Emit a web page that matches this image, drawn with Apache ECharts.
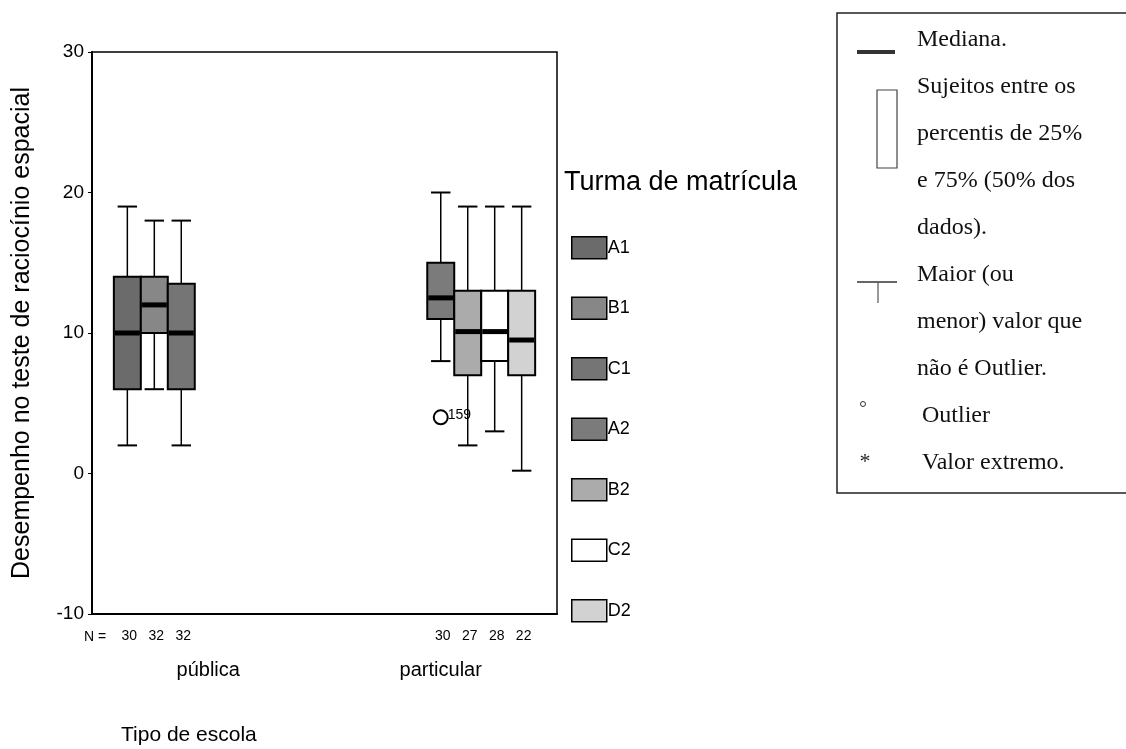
<!DOCTYPE html>
<html><head><meta charset="utf-8">
<script src="https://cdn.jsdelivr.net/npm/echarts@6/dist/echarts.min.js"></script>
<style>html,body{margin:0;padding:0;background:#fff}#c{width:1126px;height:749px}</style>
</head><body><div id="c"></div>
<script>
// ---------- data ----------
const categories = ['pública', 'particular'];
const groups = ['A1', 'B1', 'C1', 'A2', 'B2', 'C2', 'D2'];
const groupCategory = [0, 0, 0, 1, 1, 1, 1];
const whiskerLow  = [2, 6, 2, 8, 2, 3, 0.2];
const quartile1   = [6, 10, 6, 11, 7, 8, 7];
const medians     = [10, 12, 10, 12.5, 10.1, 10.1, 9.5];
const quartile3   = [14, 14, 13.5, 15, 13, 13, 13];
const whiskerHigh = [19, 18, 18, 20, 19, 19, 19];
const sampleN     = [30, 32, 32, 30, 27, 28, 22];
const outlierGroup = ['A2'];
const outlierValue = [4];
const outlierCase  = ['159'];
const yMin = -10, yMax = 30, yStep = 10;

// ---------- styles ----------
const fills = ['#6b6b6b', '#878787', '#757575', '#7b7b7b', '#ababab', '#ffffff', '#d2d2d2'];
const SANS = "'Liberation Sans', Arial, sans-serif";
const SERIF = "'Liberation Serif', 'Times New Roman', serif";
const SLOT_FRAC = 0.116;
const NSLOTS = groups.length;

function slotCenter(api, cat, slot) {
  const band = api.size([1, 0])[0];
  const w = band * SLOT_FRAC;
  return { cx: api.coord([cat, 0])[0] + (slot - (NSLOTS - 1) / 2) * w, w: w };
}

function makeBoxRender(slot) {
  return function (params, api) {
    const cat = api.value(0);
    const s = slotCenter(api, cat, slot);
    const cx = s.cx, w = s.w, half = w / 2, cap = w * 0.36;
    const Y = v => api.coord([cat, v])[1];
    const yLo = Y(api.value(1)), yQ1 = Y(api.value(2)), yMed = Y(api.value(3)),
          yQ3 = Y(api.value(4)), yHi = Y(api.value(5));
    const ln = { stroke: '#000', lineWidth: 1.5 };
    return {
      type: 'group',
      children: [
        { type: 'line', shape: { x1: cx, y1: yQ3, x2: cx, y2: yHi }, style: ln },
        { type: 'line', shape: { x1: cx - cap, y1: yHi, x2: cx + cap, y2: yHi }, style: { stroke: '#000', lineWidth: 2 } },
        { type: 'line', shape: { x1: cx, y1: yQ1, x2: cx, y2: yLo }, style: ln },
        { type: 'line', shape: { x1: cx - cap, y1: yLo, x2: cx + cap, y2: yLo }, style: { stroke: '#000', lineWidth: 2 } },
        { type: 'rect', shape: { x: cx - half, y: yQ3, width: w, height: yQ1 - yQ3 },
          style: { fill: api.visual('color'), stroke: '#000', lineWidth: 2 } },
        { type: 'line', shape: { x1: cx - half + 1, y1: yMed, x2: cx + half - 1, y2: yMed },
          style: { stroke: '#000', lineWidth: 5 } },
        { type: 'text', x: cx + 2, y: Y(yMin) + 22,
          style: { text: String(api.value(6)), fill: '#000', font: '14px ' + SANS, align: 'center', verticalAlign: 'middle' } }
      ]
    };
  };
}

const series = groups.map((g, i) => ({
  name: g,
  type: 'custom',
  clip: false,
  itemStyle: { color: fills[i], borderColor: '#000', borderWidth: 1.5 },
  encode: { x: 0, y: [1, 2, 3, 4, 5] },
  renderItem: makeBoxRender(i),
  data: [[groupCategory[i], whiskerLow[i], quartile1[i], medians[i], quartile3[i], whiskerHigh[i], sampleN[i]]]
}));

series.push({
  name: 'Outlier',
  type: 'custom',
  clip: false,
  encode: { x: 0, y: 2 },
  renderItem: function (params, api) {
    const cat = api.value(0), slot = api.value(1);
    const s = slotCenter(api, cat, slot);
    const p = api.coord([cat, api.value(2)]);
    return {
      type: 'group',
      children: [
        { type: 'circle', shape: { cx: s.cx, cy: p[1], r: 7 }, style: { fill: 'none', stroke: '#000', lineWidth: 2 } },
        { type: 'text', x: s.cx + 7, y: p[1] - 2,
          style: { text: outlierCase[params.dataIndex], fill: '#000', font: '14px ' + SANS, verticalAlign: 'middle' } }
      ]
    };
  },
  data: outlierGroup.map((g, k) => {
    const idx = groups.indexOf(g);
    return [groupCategory[idx], idx, outlierValue[k]];
  })
});

// explanation box (right)
const keyLines = ['Mediana.', 'Sujeitos entre os', 'percentis de 25%', 'e 75% (50% dos', 'dados).',
  'Maior (ou', 'menor) valor que', 'não é Outlier.', 'Outlier', 'Valor extremo.'];
const keyGraphics = [
  { type: 'rect', shape: { x: 837, y: 13, width: 300, height: 480 }, style: { fill: '#fff', stroke: '#222', lineWidth: 1.5 } },
  { type: 'line', shape: { x1: 857, y1: 52, x2: 895, y2: 52 }, style: { stroke: '#333', lineWidth: 4 } },
  { type: 'rect', shape: { x: 877, y: 90, width: 20, height: 78 }, style: { fill: '#fff', stroke: '#444', lineWidth: 1.2 } },
  { type: 'line', shape: { x1: 857, y1: 282, x2: 897, y2: 282 }, style: { stroke: '#333', lineWidth: 1.5 } },
  { type: 'line', shape: { x1: 878, y1: 282, x2: 878, y2: 303 }, style: { stroke: '#555', lineWidth: 1.2 } },
  { type: 'circle', shape: { cx: 863, cy: 404, r: 2.5 }, style: { fill: 'none', stroke: '#333', lineWidth: 1 } },
  { type: 'text', x: 865, y: 462, style: { text: '*', font: '22px ' + SERIF, fill: '#222', align: 'center', verticalAlign: 'middle' } }
].concat(keyLines.map((t, i) => ({
  type: 'text', x: i >= 8 ? 922 : 917, y: 40 + i * 47,
  style: { text: t, font: '24px ' + SERIF, fill: '#111', verticalAlign: 'middle' }
})));

const chart = echarts.init(document.getElementById('c'), null, { renderer: 'canvas' });
chart.setOption({
  animation: false,
  backgroundColor: '#fff',
  grid: { left: 92, top: 52, width: 465, height: 562, show: true, borderColor: '#000', borderWidth: 1.5, backgroundColor: 'transparent' },
  xAxis: {
    type: 'category',
    data: categories,
    axisLine: { onZero: false, lineStyle: { color: '#000', width: 2 } },
    axisTick: { alignWithLabel: true, length: 4, lineStyle: { color: '#000' } },
    axisLabel: { color: '#000', fontSize: 20, fontFamily: SANS, margin: 46 },
    splitLine: { show: false }
  },
  yAxis: {
    type: 'value',
    min: yMin, max: yMax, interval: yStep,
    name: 'Desempenho no teste de raciocínio espacial',
    nameLocation: 'middle',
    nameRotate: 90,
    nameGap: 57,
    nameTextStyle: { color: '#000', fontSize: 25, fontFamily: SANS },
    axisLine: { show: true, onZero: false, lineStyle: { color: '#000', width: 2 } },
    axisTick: { show: true, length: 4, lineStyle: { color: '#000' } },
    axisLabel: { color: '#000', fontSize: 19, fontFamily: SANS, margin: 8 },
    splitLine: { show: false }
  },
  legend: {
    data: groups,
    orient: 'vertical',
    left: 571, top: 236,
    padding: 0,
    itemWidth: 35, itemHeight: 22, itemGap: 37,
    icon: 'rect',
    itemStyle: { borderColor: '#000', borderWidth: 1.5 },
    textStyle: { color: '#000', fontSize: 18, fontFamily: SANS, padding: [0, 0, 0, -4] },
    selectedMode: false
  },
  graphic: [
    { type: 'text', left: 564, top: 169, style: { text: 'Turma de matrícula', font: '27px ' + SANS, fill: '#000' } },
    { type: 'text', left: 121, top: 725, style: { text: 'Tipo de escola', font: '21px ' + SANS, fill: '#000' } },
    { type: 'text', left: 84, top: 630, style: { text: 'N =', font: '14px ' + SANS, fill: '#000' } },
    { type: 'group', left: 0, top: 0, bounding: 'raw', children: keyGraphics }
  ],
  series: series
});
</script>
</body></html>
